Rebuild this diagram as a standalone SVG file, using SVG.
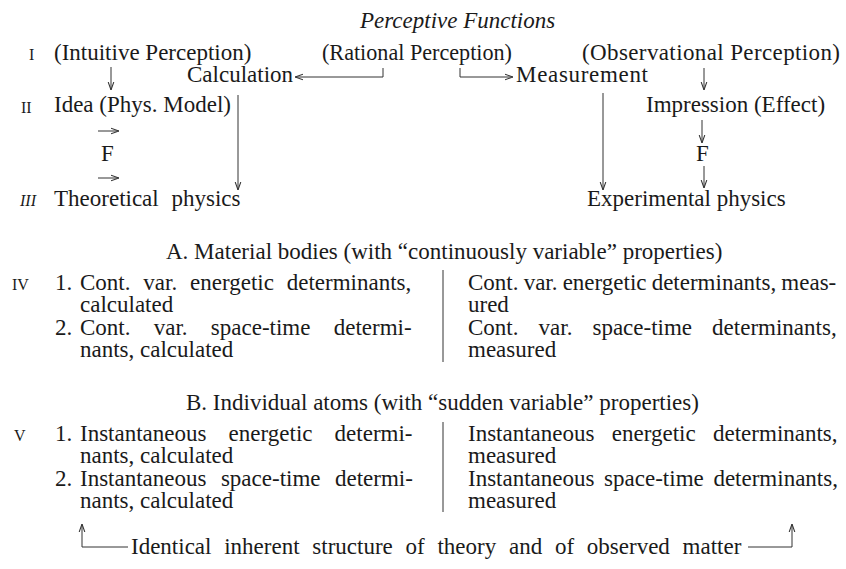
<svg xmlns="http://www.w3.org/2000/svg" width="846" height="569" viewBox="0 0 846 569">
<defs>
<style>
text{font-family:"Liberation Serif","DejaVu Serif",serif;font-size:23px;fill:#1a1a1a;}
.it{font-style:italic;}
.num{font-size:16px;}
.ln{stroke:#333;stroke-width:1;fill:none;}
</style>
<marker id="ah" viewBox="0 0 10 10" refX="10" refY="5" markerWidth="8" markerHeight="8" markerUnits="userSpaceOnUse" orient="auto">
<path d="M0,1.5 L10,5 L0,8.5" fill="none" stroke="#333" stroke-width="1.3"/>
</marker>
</defs>
<rect width="846" height="569" fill="#fff"/>
<g font-family="Liberation Serif, DejaVu Serif, serif">
<g id="title"><text class="it" x="360" y="28" font-size="20">Perceptive Functions</text></g>
<g id="row-labels">
<text class="num" x="29" y="60">I</text>
<text class="num" x="21" y="113">II</text>
<text class="num it" x="20" y="206">III</text>
<text class="num" x="12" y="290">IV</text>
<text class="num" x="14" y="441">V</text>
</g>
<g id="n-intuitive"><text x="54" y="60">(Intuitive Perception)</text></g>
<g id="n-rational"><text x="322" y="60" textLength="190" lengthAdjust="spacingAndGlyphs">(Rational Perception)</text></g>
<g id="n-observational"><text x="582" y="60" textLength="258" lengthAdjust="spacing">(Observational Perception)</text></g>
<g id="n-calculation"><text x="187" y="82">Calculation</text></g>
<g id="n-measurement"><text x="516" y="82" textLength="132" lengthAdjust="spacing">Measurement</text></g>
<g id="n-idea"><text x="54" y="112">Idea (Phys. Model)</text></g>
<g id="n-impression"><text x="646" y="112">Impression (Effect)</text></g>
<g id="n-f-left"><text x="101" y="161">F</text></g>
<g id="n-f-right"><text x="696" y="161">F</text></g>
<g id="n-theoretical"><text x="54" y="206" word-spacing="7">Theoretical physics</text></g>
<g id="n-experimental"><text x="587" y="206">Experimental physics</text></g>
<g id="heading-a"><text x="166" y="259">A. Material bodies (with “continuously variable” properties)</text></g>
<g id="n-iv-left">
<text x="55" y="290">1.</text>
<text x="80" y="290" word-spacing="7.1">Cont. var. energetic determinants,</text>
<text x="80" y="312">calculated</text>
<text x="55" y="335">2.</text>
<text x="80" y="335" word-spacing="17.5">Cont. var. space-time determi-</text>
<text x="80" y="357">nants, calculated</text>
</g>
<g id="n-iv-right">
<text x="468" y="290" word-spacing="-0.6">Cont. var. energetic determinants, meas-</text>
<text x="468" y="312">ured</text>
<text x="468" y="335" word-spacing="14.3">Cont. var. space-time determinants,</text>
<text x="468" y="357">measured</text>
</g>
<g id="heading-b"><text x="186" y="410">B. Individual atoms (with “sudden variable” properties)</text></g>
<g id="n-v-left">
<text x="55" y="441">1.</text>
<text x="80" y="441" word-spacing="16.4">Instantaneous energetic determi-</text>
<text x="80" y="463">nants, calculated</text>
<text x="55" y="486">2.</text>
<text x="80" y="486" word-spacing="8.7">Instantaneous space-time determi-</text>
<text x="80" y="508">nants, calculated</text>
</g>
<g id="n-v-right">
<text x="468" y="441" word-spacing="11.6">Instantaneous energetic determinants,</text>
<text x="468" y="463">measured</text>
<text x="468" y="486" word-spacing="3.9">Instantaneous space-time determinants,</text>
<text x="468" y="508">measured</text>
</g>
<g id="n-identical"><text x="131" y="554" word-spacing="7">Identical inherent structure of theory and of observed matter</text></g>
</g>
<g id="connectors">
<path class="ln" d="M111,67 V90" marker-end="url(#ah)"/>
<path class="ln" d="M704,68 V90" marker-end="url(#ah)"/>
<path class="ln" d="M383,68 V77 H295" marker-end="url(#ah)"/>
<path class="ln" d="M460,68 V77 H513" marker-end="url(#ah)"/>
<path class="ln" d="M238,95 V190" marker-end="url(#ah)"/>
<path class="ln" d="M603,93 V190" marker-end="url(#ah)"/>
<path class="ln" d="M98,131 H119" marker-end="url(#ah)"/>
<path class="ln" d="M98,178 H119" marker-end="url(#ah)"/>
<path class="ln" d="M702,120 V143" marker-end="url(#ah)"/>
<path class="ln" d="M704,166 V188" marker-end="url(#ah)"/>
<path class="ln" d="M443,270 V362"/>
<path class="ln" d="M443,422 V512"/>
<path class="ln" d="M128,547 H82 V524" marker-end="url(#ah)"/>
<path class="ln" d="M748,547 H792 V524" marker-end="url(#ah)"/>
</g>
</svg>
